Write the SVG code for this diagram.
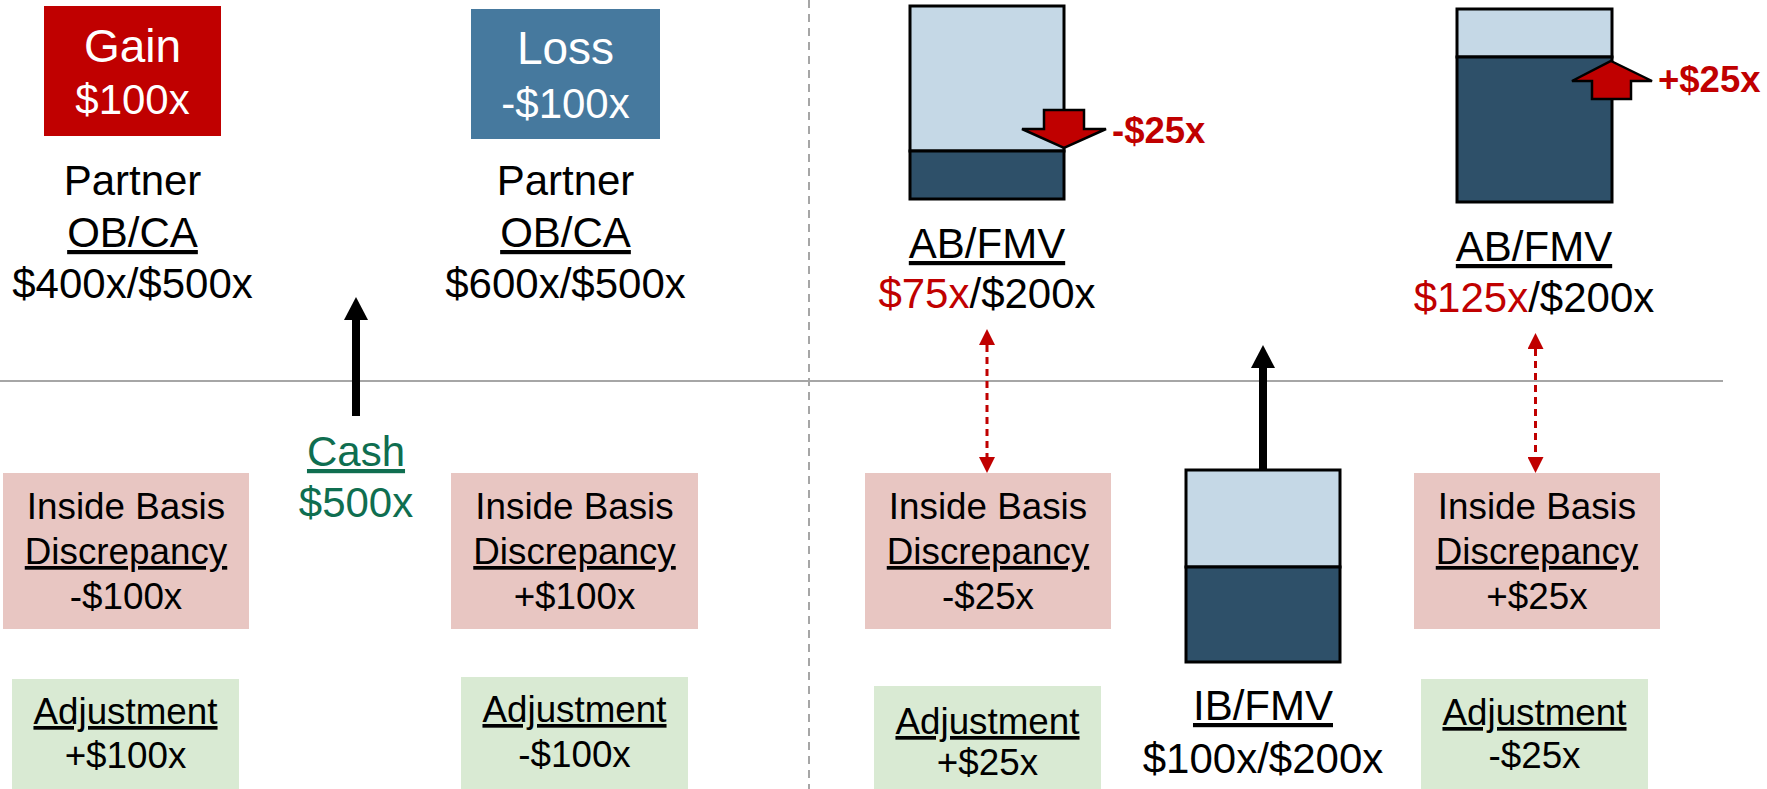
<svg xmlns="http://www.w3.org/2000/svg" width="1767" height="789" viewBox="0 0 1767 789">
<style>
text{font-family:"Liberation Sans",Arial,sans-serif;text-anchor:middle;fill:#000}
.t42{font-size:42px}
.t46{font-size:46px}
.t37{font-size:36.8px}
.w{fill:#fff}
.red{fill:#C00000}
.bold{font-weight:bold;text-anchor:start;font-size:36.5px}
.u{text-decoration:underline}
.pink{fill:#E8C6C2}
.green{fill:#D9EAD3}
.light{fill:#C5D8E6;stroke:#000;stroke-width:3}
.dark{fill:#2E5069;stroke:#000;stroke-width:3}
.bigarrow{fill:#C00000;stroke:#000;stroke-width:2.5;stroke-linejoin:miter}
</style>
<defs>
<marker id="blackHead" markerUnits="userSpaceOnUse" markerWidth="24" markerHeight="24" viewBox="0 0 23 24" refX="0" refY="12" orient="auto">
<path d="M0,0 L23,12 L0,24 Z" fill="#000"/>
</marker>
<marker id="redHead" markerUnits="userSpaceOnUse" markerWidth="16" markerHeight="16" viewBox="0 0 16 16" refX="0" refY="8" orient="auto-start-reverse">
<path d="M0,0 L16,8 L0,16 Z" fill="#C00000"/>
</marker>
</defs>
<rect width="1767" height="789" fill="#fff"/>
<g id="dividers">
<line x1="0" y1="381" x2="1723" y2="381" stroke="#A6A6A6" stroke-width="2"/>
<line x1="809" y1="0" x2="809" y2="789" stroke="#A6A6A6" stroke-width="2" stroke-dasharray="8,6"/>
</g>
<g id="gain">
<rect x="44" y="6" width="177" height="130" fill="#C00000"/>
<text class="t46 w" x="132.5" y="62">Gain</text>
<text class="t42 w" x="132.5" y="114">$100x</text>
</g>
<g id="loss">
<rect x="471" y="9" width="189" height="130" fill="#46799E"/>
<text class="t46 w" x="565.5" y="64">Loss</text>
<text class="t42 w" x="565.5" y="118">-$100x</text>
</g>
<g id="partner1">
<text class="t42" x="132.5" y="195">Partner</text>
<text class="t42 u" x="132.5" y="247">OB/CA</text>
<text class="t42" x="132.5" y="298">$400x/$500x</text>
</g>
<g id="partner2">
<text class="t42" x="565.5" y="195">Partner</text>
<text class="t42 u" x="565.5" y="247">OB/CA</text>
<text class="t42" x="565.5" y="298">$600x/$500x</text>
</g>
<g id="cash">
<text class="t42 u" x="356" y="466" style="fill:#0F6E50">Cash</text>
<text class="t42" x="356" y="517" style="fill:#0F6E50">$500x</text>
</g>
<g id="ibd1">
<rect class="pink" x="3" y="473" width="246" height="156"/>
<text class="t37" x="126" y="519">Inside Basis</text>
<text class="t37 u" x="126" y="564">Discrepancy</text>
<text class="t37" x="126" y="609">-$100x</text>
</g>
<g id="ibd2">
<rect class="pink" x="451" y="473" width="247" height="156"/>
<text class="t37" x="574.5" y="519">Inside Basis</text>
<text class="t37 u" x="574.5" y="564">Discrepancy</text>
<text class="t37" x="574.5" y="609">+$100x</text>
</g>
<g id="ibd3">
<rect class="pink" x="865" y="473" width="246" height="156"/>
<text class="t37" x="988" y="519">Inside Basis</text>
<text class="t37 u" x="988" y="564">Discrepancy</text>
<text class="t37" x="988" y="609">-$25x</text>
</g>
<g id="ibd4">
<rect class="pink" x="1414" y="473" width="246" height="156"/>
<text class="t37" x="1537" y="519">Inside Basis</text>
<text class="t37 u" x="1537" y="564">Discrepancy</text>
<text class="t37" x="1537" y="609">+$25x</text>
</g>
<g id="adj1">
<rect class="green" x="12" y="679" width="227" height="110"/>
<text class="t37 u" x="125.5" y="724">Adjustment</text>
<text class="t37" x="125.5" y="768">+$100x</text>
</g>
<g id="adj2">
<rect class="green" x="461" y="677" width="227" height="112"/>
<text class="t37 u" x="574.5" y="722">Adjustment</text>
<text class="t37" x="574.5" y="767">-$100x</text>
</g>
<g id="adj3">
<rect class="green" x="874" y="686" width="227" height="103"/>
<text class="t37 u" x="987.5" y="734">Adjustment</text>
<text class="t37" x="987.5" y="775">+$25x</text>
</g>
<g id="adj4">
<rect class="green" x="1421" y="679" width="227" height="110"/>
<text class="t37 u" x="1534.5" y="725">Adjustment</text>
<text class="t37" x="1534.5" y="768">-$25x</text>
</g>
<g id="abfmv1">
<rect class="light" x="910" y="6" width="154" height="145"/>
<rect class="dark" x="910" y="151" width="154" height="48"/>
<polygon class="bigarrow" points="1044,110 1084,110 1084,129 1106,129 1064,148 1022,129 1044,129"/>
<text class="bold red" x="1112" y="143">-$25x</text>
<text class="t42 u" x="987" y="258">AB/FMV</text>
<text class="t42" x="987" y="308"><tspan class="red">$75x</tspan>/$200x</text>
</g>
<g id="abfmv2">
<rect class="light" x="1457" y="9" width="155" height="48"/>
<rect class="dark" x="1457" y="57" width="155" height="145"/>
<polygon class="bigarrow" points="1611,61 1652,81 1631,81 1631,99 1592,99 1592,81 1572,81"/>
<text class="bold red" x="1658" y="92">+$25x</text>
<text class="t42 u" x="1534" y="261">AB/FMV</text>
<text class="t42" x="1534" y="312"><tspan class="red">$125x</tspan>/$200x</text>
</g>
<g id="ibfmv">
<rect class="light" x="1186" y="470" width="154" height="97"/>
<rect class="dark" x="1186" y="567" width="154" height="95"/>
<text class="t42 u" x="1263" y="720">IB/FMV</text>
<text class="t42" x="1263" y="773">$100x/$200x</text>
</g>
<g id="connectors">
<line x1="356" y1="416" x2="356" y2="320" stroke="#000" stroke-width="8" marker-end="url(#blackHead)"/>
<line x1="1263" y1="470" x2="1263" y2="368" stroke="#000" stroke-width="8" marker-end="url(#blackHead)"/>
<line x1="987" y1="345" x2="987" y2="457" stroke="#C00000" stroke-width="3" stroke-dasharray="7,5" marker-start="url(#redHead)" marker-end="url(#redHead)"/>
<line x1="1535.5" y1="349" x2="1535.5" y2="457" stroke="#C00000" stroke-width="3" stroke-dasharray="7,5" marker-start="url(#redHead)" marker-end="url(#redHead)"/>
</g>
</svg>
